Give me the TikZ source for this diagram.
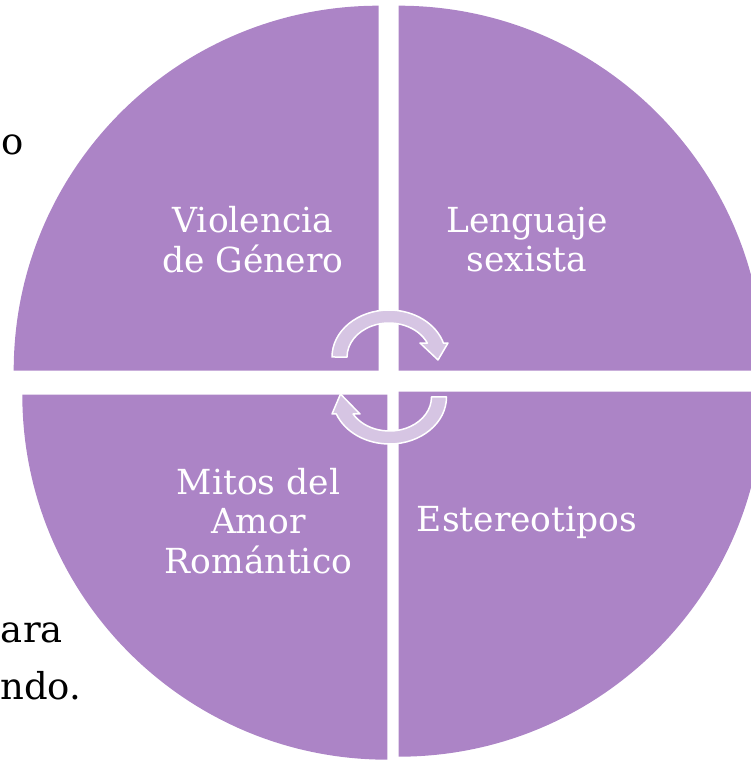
\documentclass[tikz,border=0pt]{standalone}
\usepackage{fontspec}
\setmainfont{DejaVu Serif}
\definecolor{quad}{HTML}{AC84C6}
\definecolor{cyc}{HTML}{D6C5E3}
\begin{document}
\begin{tikzpicture}[x=1pt,y=1pt,
  quadfill/.style={fill=quad,draw=none},
  cycarrow/.style={fill=cyc,draw=white,line width=1.5pt,line join=round},
  lbl/.style={text=white,inner sep=0pt,anchor=base,font=\fontsize{34.5}{39}\selectfont},
  bg/.style={text=black,inner sep=0pt,anchor=base east,font=\fontsize{37}{42}\selectfont}]
\useasboundingbox (0,0) rectangle (751,760);
\clip (0,0) rectangle (751,760);
% background slide text fragments
\node[bg] (t1) at (23.5,605) {o};
\node[bg] (t2) at (63,117) {ara};
\node[bg,anchor=base west] (t3) at (0,60) {ndo.};
% quadrants
\path[quadfill] (378.7,389.3) -- (13.7,389.3) arc[start angle=180,end angle=90,radius=365] -- cycle;
\path[quadfill] (398.7,389.3) -- (398.7,754.3) arc[start angle=90,end angle=0,radius=365] -- cycle;
\path[quadfill] (387.3,365.3) -- (22.3,365.3) arc[start angle=180,end angle=270,radius=365] -- cycle;
\path[quadfill] (398.7,368.3) -- (398.7,3.3) arc[start angle=270,end angle=360,radius=365] -- cycle;
% cycle arrows
\path[cycarrow] (332,403) arc[start angle=180,end angle=17,x radius=57,y radius=47]
  -- (448,417) -- (438,400) -- (420,417) -- (427.4,416.8)
  arc[start angle=24,end angle=180,x radius=42,y radius=34] -- cycle;
\path[cycarrow] (446.5,363) arc[start angle=0,end angle=-158.8,x radius=57,y radius=47]
  -- (332,346) -- (340.5,366) -- (360,346) -- (353.1,346)
  arc[start angle=-150,end angle=0,x radius=42,y radius=34] -- cycle;
% labels
\node[lbl] (vg) at (253,527) {\begin{tabular}[t]{@{}c@{}}Violencia\\de Género\end{tabular}};
\node[lbl] (ls) at (527,527) {\begin{tabular}[t]{@{}c@{}}Lenguaje\\sexista\end{tabular}};
\node[lbl] (ma) at (258.5,265) {\begin{tabular}[t]{@{}c@{}}Mitos del\\Amor\\Romántico\end{tabular}};
\node[lbl] (es) at (527,228) {Estereotipos};
\end{tikzpicture}
\end{document}
